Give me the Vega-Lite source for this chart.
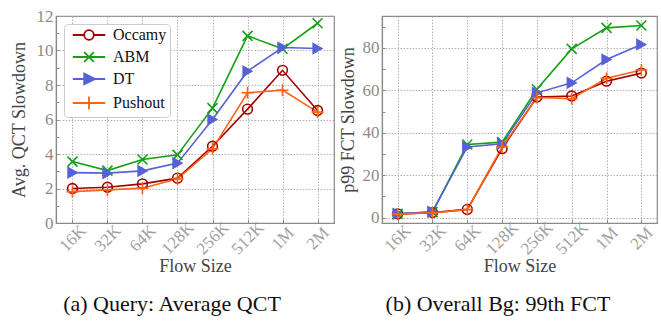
{
  "$schema": "https://vega.github.io/schema/vega-lite/v6.json",
  "padding": {"left": 9, "top": 6, "right": 0, "bottom": 0},
  "config": {
    "font": "Liberation Serif",
    "view": {"stroke": "#8a8a8a", "strokeWidth": 1.2},
    "axis": {
      "domainColor": "#8a8a8a",
      "domainWidth": 1.2,
      "gridColor": "#aaaaaa",
      "gridDash": [1.5, 1.5],
      "gridWidth": 0.9,
      "tickColor": "#8a8a8a",
      "labelColor": "#8c8c8c",
      "labelFont": "Liberation Serif",
      "labelFontSize": 17,
      "titleFont": "Liberation Serif",
      "titleFontSize": 18,
      "titleFontWeight": "normal",
      "titleColor": "#444444"
    },
    "legend": {
      "labelFont": "Liberation Serif",
      "labelFontSize": 16,
      "labelColor": "#111111",
      "fillColor": "white",
      "strokeColor": "#cccccc",
      "cornerRadius": 4,
      "padding": 3,
      "rowPadding": 4,
      "symbolSize": 144,
      "symbolStrokeWidth": 1.8,
      "symbolOffset": 14,
      "labelOffset": 16
    }
  },
  "datasets": {
    "qct": [
      {"size": "16K", "method": "Occamy", "value": 2.0},
      {"size": "32K", "method": "Occamy", "value": 2.07},
      {"size": "64K", "method": "Occamy", "value": 2.27},
      {"size": "128K", "method": "Occamy", "value": 2.6},
      {"size": "256K", "method": "Occamy", "value": 4.45},
      {"size": "512K", "method": "Occamy", "value": 6.6},
      {"size": "1M", "method": "Occamy", "value": 8.85},
      {"size": "2M", "method": "Occamy", "value": 6.52},
      {"size": "16K", "method": "ABM", "value": 3.56},
      {"size": "32K", "method": "ABM", "value": 3.04},
      {"size": "64K", "method": "ABM", "value": 3.68},
      {"size": "128K", "method": "ABM", "value": 3.95},
      {"size": "256K", "method": "ABM", "value": 6.66},
      {"size": "512K", "method": "ABM", "value": 10.85},
      {"size": "1M", "method": "ABM", "value": 10.1},
      {"size": "2M", "method": "ABM", "value": 11.58},
      {"size": "16K", "method": "DT", "value": 2.92},
      {"size": "32K", "method": "DT", "value": 2.89},
      {"size": "64K", "method": "DT", "value": 3.02},
      {"size": "128K", "method": "DT", "value": 3.47},
      {"size": "256K", "method": "DT", "value": 6.0},
      {"size": "512K", "method": "DT", "value": 8.8},
      {"size": "1M", "method": "DT", "value": 10.17},
      {"size": "2M", "method": "DT", "value": 10.12},
      {"size": "16K", "method": "Pushout", "value": 1.82},
      {"size": "32K", "method": "Pushout", "value": 1.92},
      {"size": "64K", "method": "Pushout", "value": 2.02},
      {"size": "128K", "method": "Pushout", "value": 2.56},
      {"size": "256K", "method": "Pushout", "value": 4.3},
      {"size": "512K", "method": "Pushout", "value": 7.55},
      {"size": "1M", "method": "Pushout", "value": 7.7},
      {"size": "2M", "method": "Pushout", "value": 6.43}
    ],
    "fct": [
      {"size": "16K", "method": "Occamy", "value": 1.8},
      {"size": "32K", "method": "Occamy", "value": 2.4},
      {"size": "64K", "method": "Occamy", "value": 3.9},
      {"size": "128K", "method": "Occamy", "value": 32.5},
      {"size": "256K", "method": "Occamy", "value": 56.8},
      {"size": "512K", "method": "Occamy", "value": 57.3},
      {"size": "1M", "method": "Occamy", "value": 64.3},
      {"size": "2M", "method": "Occamy", "value": 68.1},
      {"size": "16K", "method": "ABM", "value": 1.8},
      {"size": "32K", "method": "ABM", "value": 2.6},
      {"size": "64K", "method": "ABM", "value": 34.5},
      {"size": "128K", "method": "ABM", "value": 35.6},
      {"size": "256K", "method": "ABM", "value": 60.5},
      {"size": "512K", "method": "ABM", "value": 79.5},
      {"size": "1M", "method": "ABM", "value": 89.4},
      {"size": "2M", "method": "ABM", "value": 90.5},
      {"size": "16K", "method": "DT", "value": 1.8},
      {"size": "32K", "method": "DT", "value": 2.8},
      {"size": "64K", "method": "DT", "value": 33.3},
      {"size": "128K", "method": "DT", "value": 34.8},
      {"size": "256K", "method": "DT", "value": 58.8},
      {"size": "512K", "method": "DT", "value": 63.5},
      {"size": "1M", "method": "DT", "value": 74.5},
      {"size": "2M", "method": "DT", "value": 81.6},
      {"size": "16K", "method": "Pushout", "value": 1.7},
      {"size": "32K", "method": "Pushout", "value": 2.3},
      {"size": "64K", "method": "Pushout", "value": 3.8},
      {"size": "128K", "method": "Pushout", "value": 33.3},
      {"size": "256K", "method": "Pushout", "value": 56.6},
      {"size": "512K", "method": "Pushout", "value": 56.0},
      {"size": "1M", "method": "Pushout", "value": 65.7},
      {"size": "2M", "method": "Pushout", "value": 69.6}
    ]
  },
  "hconcat": [
    {
      "width": 278,
      "height": 207,
      "data": {"name": "qct"},
      "title": {"text": "(a) Query: Average QCT", "font": "Liberation Serif", "fontSize": 22, "fontWeight": "normal", "color": "#111111", "orient": "bottom", "anchor": "middle", "offset": 19, "frame": "bounds"},
      "encoding": {
        "x": {
          "field": "size", "type": "ordinal",
          "sort": ["16K", "32K", "64K", "128K", "256K", "512K", "1M", "2M"],
          "scale": {"type": "point", "padding": 0.47},
          "axis": {"title": "Flow Size", "labelAngle": -45, "labelAlign": "center", "labelBaseline": "middle", "labelPadding": 19, "labelColor": "#a0a0a0", "tickSize": -4, "titlePadding": 0, "grid": true}
        },
        "y": {
          "field": "value", "type": "quantitative",
          "scale": {"domain": [0, 12], "nice": false, "zero": false},
          "axis": {
            "title": "Avg. QCT Slowdown",
            "values": [0, 1, 2, 3, 4, 5, 6, 7, 8, 9, 10, 11, 12],
            "labelExpr": "datum.value % 2 == 0 ? datum.label : ''",
            "gridOpacity": {"condition": {"test": "datum.value % 2 != 0", "value": 0}, "value": 1},
            "tickSize": -3,
            "labelPadding": 6,
            "titlePadding": 8
          }
        },
        "stroke": {
          "field": "method", "type": "nominal",
          "scale": {"domain": ["Occamy", "ABM", "DT", "Pushout"], "range": ["#a30000", "#14a014", "#5462d6", "#fa6414"]},
          "legend": {
            "title": null,
            "orient": "none",
            "legendX": 8,
            "legendY": 8,
            "encode": {
              "symbols": {
                "update": {
                  "shape": {"signal": "datum.value == 'Occamy' ? 'M-2.7,0L-0.8,0M0.8,0L2.7,0M-0.8,0A0.8,0.8 0 1,0 0.8,0A0.8,0.8 0 1,0 -0.8,0' : datum.value == 'ABM' ? 'M-2.7,0L2.7,0M-0.8,-0.8L0.8,0.8M-0.8,0.8L0.8,-0.8' : datum.value == 'DT' ? 'M-2.7,0L2.7,0M-0.8,-0.9L1,0L-0.8,0.9Z' : 'M-2.7,0L2.7,0M0,-1.1L0,1.1'"},
                  "fill": {"signal": "datum.value == 'DT' ? '#5462d6' : 'transparent'"},
                  "strokeWidth": {"value": 1.8}
                }
              }
            }
          }
        }
      },
      "layer": [
        {"mark": {"type": "line", "strokeWidth": 1.6}},
        {"transform": [{"filter": "datum.method == 'Occamy'"}], "mark": {"type": "point", "shape": "circle", "filled": false, "strokeWidth": 1.6, "opacity": 1, "size": 95}},
        {"transform": [{"filter": "datum.method == 'ABM'"}], "mark": {"type": "point", "shape": "M-1,-1L1,1M-1,1L1,-1", "filled": false, "strokeWidth": 1.6, "opacity": 1, "size": 100}},
        {"transform": [{"filter": "datum.method == 'DT'"}], "mark": {"type": "point", "shape": "triangle-right", "filled": true, "fill": "#5462d6", "strokeWidth": 1.2, "opacity": 1, "size": 110}},
        {"transform": [{"filter": "datum.method == 'Pushout'"}], "mark": {"type": "point", "shape": "M-1.2,0L1.2,0M0,-1.2L0,1.2", "filled": false, "strokeWidth": 1.6, "opacity": 1, "size": 100}}
      ]
    },
    {
      "width": 275,
      "height": 207,
      "data": {"name": "fct"},
      "title": {"text": "(b) Overall Bg: 99th FCT", "font": "Liberation Serif", "fontSize": 22, "fontWeight": "normal", "color": "#111111", "orient": "bottom", "anchor": "middle", "offset": 19, "frame": "bounds"},
      "encoding": {
        "x": {
          "field": "size", "type": "ordinal",
          "sort": ["16K", "32K", "64K", "128K", "256K", "512K", "1M", "2M"],
          "scale": {"type": "point", "padding": 0.45},
          "axis": {"title": "Flow Size", "labelAngle": -45, "labelAlign": "center", "labelBaseline": "middle", "labelPadding": 19, "labelColor": "#a0a0a0", "tickSize": -4, "titlePadding": 0, "grid": true}
        },
        "y": {
          "field": "value", "type": "quantitative",
          "scale": {"domain": [-2.5, 95], "nice": false, "zero": false},
          "axis": {
            "title": "p99 FCT Slowdown",
            "values": [0, 10, 20, 30, 40, 50, 60, 70, 80, 90],
            "labelExpr": "datum.value % 20 == 0 ? datum.label : ''",
            "gridOpacity": {"condition": {"test": "datum.value % 20 != 0", "value": 0}, "value": 1},
            "tickSize": -3,
            "labelPadding": 6,
            "titlePadding": 5
          }
        },
        "stroke": {
          "field": "method", "type": "nominal",
          "scale": {"domain": ["Occamy", "ABM", "DT", "Pushout"], "range": ["#a30000", "#14a014", "#5462d6", "#fa6414"]},
          "legend": null
        }
      },
      "layer": [
        {"mark": {"type": "line", "strokeWidth": 1.6}},
        {"transform": [{"filter": "datum.method == 'Occamy'"}], "mark": {"type": "point", "shape": "circle", "filled": false, "strokeWidth": 1.6, "opacity": 1, "size": 95}},
        {"transform": [{"filter": "datum.method == 'ABM'"}], "mark": {"type": "point", "shape": "M-1,-1L1,1M-1,1L1,-1", "filled": false, "strokeWidth": 1.6, "opacity": 1, "size": 100}},
        {"transform": [{"filter": "datum.method == 'DT'"}], "mark": {"type": "point", "shape": "triangle-right", "filled": true, "fill": "#5462d6", "strokeWidth": 1.2, "opacity": 1, "size": 110}},
        {"transform": [{"filter": "datum.method == 'Pushout'"}], "mark": {"type": "point", "shape": "M-1.2,0L1.2,0M0,-1.2L0,1.2", "filled": false, "strokeWidth": 1.6, "opacity": 1, "size": 100}}
      ]
    }
  ],
  "resolve": {"scale": {"stroke": "independent"}},
  "spacing": 3
}
